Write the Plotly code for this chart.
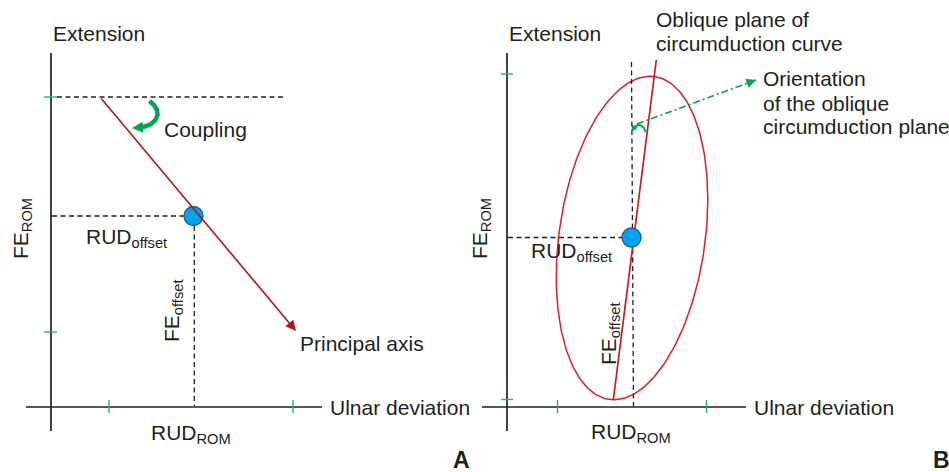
import numpy as np
import plotly.graph_objects as go

W, H = 949, 472
INK = "#231f20"
GREEN = "#00a651"
TICK_GREEN = "#22b36a"
RED_AXIS = "#b3151c"
RED_ELL = "#dc1f26"
RED_LINE = "#c41e25"
BLUE_FILL = "#00a4ea"
BLUE_EDGE = "#1b5aa5"
FONT = "Liberation Sans, Arial, sans-serif"

# ---------------- Panel A (diagram coordinates) ----------------
a_vaxis_x = [51, 51]
a_vaxis_y = [53, 431]
a_haxis_x = [26, 322]
a_haxis_y = [407, 407]
a_vtick_y = [97, 332]
a_vtick_x = [44, 57]
a_htick_x = [109, 293]
a_htick_y = [400, 413]
a_offset_pt = [193.5, 216]
a_principal_start = [100, 97]
a_principal_tip = [296, 331]
a_romline_x = [57, 283]
a_romline_y = [97, 97]
a_hdash_x = [52, 184]
a_hdash_y = [216, 216]
a_vdash_x = [194.3, 194.3]
a_vdash_y = [226, 406]
a_coupling_x = [149.5, 154, 157, 157.5, 155.5, 151, 145, 139.5]
a_coupling_y = [101, 105, 110, 115, 120, 124, 126.5, 127.5]
a_coupling_tip = [132, 128]

# ---------------- Panel B ----------------
b_vaxis_x = [507, 507]
b_vaxis_y = [53, 431]
b_haxis_x = [482, 746]
b_haxis_y = [407, 407]
b_vtick_y = [74, 399.5]
b_vtick_x = [501, 513]
b_htick_x = [557.5, 706.5]
b_htick_y = [400, 413]
b_offset_pt = [631.5, 237.5]
b_ellipse_center = [632, 238]
b_ellipse_axes = [163, 73]      # semi-major, semi-minor (px)
b_ellipse_tilt_deg = 8          # clockwise from vertical
b_oblique_x = [613.3, 656.3]
b_oblique_y = [400, 60]
b_vdash_x = [631.5, 633.5]
b_vdash_y = [62, 406]
b_hdash_x = [508, 622]
b_hdash_y = [237.5, 237.5]
b_orient_start = [637, 124]
b_orient_tip = [756, 80]
b_arc_x = [645.5, 644, 641, 638, 635, 633.5]
b_arc_y = [132, 128, 125.5, 125, 126.5, 128.5]
b_arc_tip = [631.5, 132]

# ---------------- Labels ----------------
labels_left = [  # text, left x, center y
    ("Extension", 51, 33),
    ("Coupling", 162, 129),
    ("Principal axis", 298, 343),
    ("Ulnar deviation", 328, 407),
    ("Extension", 507, 33),
    ("Oblique plane of", 654, 19),
    ("circumduction curve", 654, 43),
    ("Orientation", 761, 78),
    ("of the oblique", 761, 103),
    ("circumduction plane", 761, 126),
    ("Ulnar deviation", 752, 407),
]
labels_sub = [  # main, sub, left x, center y of main text
    ("RUD", "offset", 84, 238),
    ("RUD", "ROM", 149, 434),
    ("RUD", "offset", 529, 252),
    ("RUD", "ROM", 589, 433),
]
labels_rot = [  # main, sub, center x, center y
    ("FE", "ROM", 22, 229),
    ("FE", "offset", 173, 311),
    ("FE", "ROM", 481, 229),
    ("FE", "offset", 610, 334),
]
panel_letters = [("A", 461, 460), ("B", 941, 460)]

fig = go.Figure()


def seg(x, y, color, width, dash="solid"):
    fig.add_trace(go.Scatter(x=x, y=y, mode="lines", hoverinfo="skip", showlegend=False,
                             line=dict(color=color, width=width, dash=dash)))


def ticks_v(xs, ys):  # horizontal tick marks on a vertical axis
    x, y = [], []
    for yy in ys:
        x += [xs[0], xs[1], None]
        y += [yy, yy, None]
    return x, y


def ticks_h(xs, ys):
    x, y = [], []
    for xx in xs:
        x += [xx, xx, None]
        y += [ys[0], ys[1], None]
    return x, y


DASH = "5px,3.5px"

# Panel A
seg(a_romline_x, a_romline_y, INK, 1.3, DASH)
seg(a_hdash_x, a_hdash_y, INK, 1.3, DASH)
seg(a_vdash_x, a_vdash_y, INK, 1.3, DASH)
seg(a_vaxis_x, a_vaxis_y, INK, 1.7)
seg(a_haxis_x, a_haxis_y, INK, 1.7)
tx, ty = ticks_v(a_vtick_x, a_vtick_y)
seg(tx, ty, TICK_GREEN, 1.4)
tx, ty = ticks_h(a_htick_x, a_htick_y)
seg(tx, ty, TICK_GREEN, 1.4)
seg(a_coupling_x, a_coupling_y, GREEN, 4.5)

# Panel B
t = np.linspace(0, 2 * np.pi, 241)
th = np.deg2rad(b_ellipse_tilt_deg)
A_, B_ = b_ellipse_axes
ex = b_ellipse_center[0] + A_ * np.cos(t) * np.sin(th) + B_ * np.sin(t) * np.cos(th)
ey = b_ellipse_center[1] - A_ * np.cos(t) * np.cos(th) + B_ * np.sin(t) * np.sin(th)
seg(ex, ey, RED_ELL, 1.5)
seg(b_vdash_x, b_vdash_y, INK, 1.3, DASH)
seg(b_hdash_x, b_hdash_y, INK, 1.3, DASH)
seg(b_oblique_x, b_oblique_y, RED_LINE, 1.7)
seg(b_vaxis_x, b_vaxis_y, INK, 1.7)
seg(b_haxis_x, b_haxis_y, INK, 1.7)
tx, ty = ticks_v(b_vtick_x, b_vtick_y)
seg(tx, ty, TICK_GREEN, 1.4)
tx, ty = ticks_h(b_htick_x, b_htick_y)
seg(tx, ty, TICK_GREEN, 1.4)
seg([b_orient_start[0], b_orient_tip[0]], [b_orient_start[1], b_orient_tip[1]], GREEN, 1.6,
    "7px,3px,2px,3px")
seg(b_arc_x, b_arc_y, GREEN, 2.0)

# centre points
fig.add_trace(go.Scatter(x=[a_offset_pt[0], b_offset_pt[0]], y=[a_offset_pt[1], b_offset_pt[1]],
                         mode="markers", hoverinfo="skip", showlegend=False,
                         marker=dict(size=19, color=BLUE_FILL, line=dict(color=BLUE_EDGE, width=1.3))))

# arrows
def arrow(tip, tail, color, width, size, head=2):
    fig.add_annotation(x=tip[0], y=tip[1], ax=tail[0], ay=tail[1], xref="x", yref="y",
                       axref="x", ayref="y", text="", showarrow=True, arrowhead=head,
                       arrowsize=size, arrowwidth=width, arrowcolor=color, standoff=0)


arrow(a_principal_tip, a_principal_start, RED_AXIS, 1.6, 1.3)
arrow(a_coupling_tip, [a_coupling_x[-1], a_coupling_y[-1]], GREEN, 2.2, 1.0)
d = np.array(b_orient_tip, float) - np.array(b_orient_start, float)
d /= np.linalg.norm(d)
arrow(b_orient_tip, list(np.array(b_orient_tip) - 6 * d), GREEN, 1.6, 1.2)
arrow(b_arc_tip, [b_arc_x[-1], b_arc_y[-1]], GREEN, 1.5, 0.9)

# texts
for txt, x, y in labels_left:
    fig.add_annotation(x=x, y=y, text=txt, showarrow=False, xanchor="left", yanchor="middle",
                       font=dict(family=FONT, size=21, color=INK))
for main, sub, x, y in labels_sub:
    fig.add_annotation(x=x, y=y, text=f"{main}<sub>{sub}</sub>", showarrow=False,
                       xanchor="left", yanchor="middle", font=dict(family=FONT, size=21, color=INK))
for main, sub, x, y in labels_rot:
    fig.add_annotation(x=x, y=y, text=f"{main}<sub>{sub}</sub>", showarrow=False, textangle=-90,
                       xanchor="center", yanchor="middle", font=dict(family=FONT, size=21, color=INK))
for txt, x, y in panel_letters:
    fig.add_annotation(x=x, y=y, text=f"<b>{txt}</b>", showarrow=False, xanchor="center",
                       yanchor="middle", font=dict(family=FONT, size=23, color=INK))

fig.update_layout(width=W, height=H, margin=dict(l=0, r=0, t=0, b=0),
                  paper_bgcolor="white", plot_bgcolor="white",
                  xaxis=dict(range=[0, W], visible=False, fixedrange=True),
                  yaxis=dict(range=[H, 0], visible=False, fixedrange=True))
fig.write_html("out.html", config={"displayModeBar": False},
               post_script="document.body.style.margin='0px';document.body.style.overflow='hidden';")
